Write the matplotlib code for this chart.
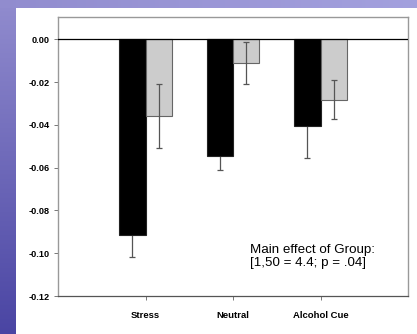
import numpy as np
import matplotlib
matplotlib.use("Agg")
import matplotlib.pyplot as plt

plt.rcParams['font.family'] = ['Liberation Sans', 'DejaVu Sans']

# data
conditions = ['Stress', 'Neutral', 'Alcohol Cue']
group_a = [-0.0914, -0.0545, -0.0405]     # black bars
group_a_err = [0.0102, 0.0067, 0.0152]
group_b = [-0.0359, -0.0111, -0.0282]     # grey bars
group_b_err = [0.0150, 0.0098, 0.0090]
yticks = [0.00, -0.02, -0.04, -0.06, -0.08, -0.10, -0.12]

W, H = 417, 334
fig = plt.figure(figsize=(W / 100, H / 100), dpi=100)
fig.patch.set_facecolor('white')

# purple slide frame (left strip + top band)
bg = fig.add_axes([0, 0, 1, 1], zorder=-5)
img = np.ones((H, W, 3))
t = np.linspace(0, 1, H)[:, None]
top_c = np.array([0.57, 0.55, 0.81])
bot_c = np.array([0.29, 0.27, 0.64])
img[:, :16, :] = (top_c * (1 - t) + bot_c * t)[:, None, :]
s = np.linspace(0, 1, W)[:, None]
img[:8, :, :] = (top_c * (1 - s) + np.array([0.64, 0.63, 0.87]) * s)[None, :, :]
bg.imshow(img, aspect='auto', interpolation='bilinear')
bg.axis('off')

ax = fig.add_axes([58 / W, 1 - 296 / H, 350 / W, 279 / H])
x = np.arange(len(conditions))
w = 0.3
ekw_a = dict(ecolor='#555555', elinewidth=0.9, capsize=2.2, capthick=0.9, zorder=1)
ekw_b = dict(ecolor='#555555', elinewidth=0.9, capsize=2.2, capthick=0.9, zorder=4)
ax.bar(x - w / 2, group_a, w, color='black', edgecolor='#222222', linewidth=0.8,
       yerr=group_a_err, error_kw=ekw_a, zorder=2)
ax.bar(x + w / 2, group_b, w, color='#cccccc', edgecolor='#666666', linewidth=0.8,
       yerr=group_b_err, error_kw=ekw_b, zorder=2)
ax.axhline(0, color='black', linewidth=0.9, zorder=5)

ax.set_xlim(-1, 3)
ax.set_ylim(-0.12, 0.0104)
ax.set_yticks(yticks)
ax.set_yticklabels(['%.2f' % v for v in yticks], fontsize=6.6, fontweight='bold')
ax.set_xticks(x)
ax.set_xticklabels(conditions, fontsize=6.8, fontweight='bold')
ax.tick_params(axis='both', direction='out', length=3, width=0.7, color='#777777', pad=3)
ax.tick_params(axis='x', pad=8)

for side in ['left', 'top', 'right']:
    ax.spines[side].set_color('#999999')
    ax.spines[side].set_linewidth(1.0)
ax.spines['bottom'].set_color('#555555')
ax.spines['bottom'].set_linewidth(0.9)

ax.text(1.197, -0.0958, 'Main effect of Group:\n[1,50 = 4.4; p = .04]',
        fontsize=9.6, va='top', ha='left', linespacing=1.1)

fig.savefig('out.png', dpi=100)
